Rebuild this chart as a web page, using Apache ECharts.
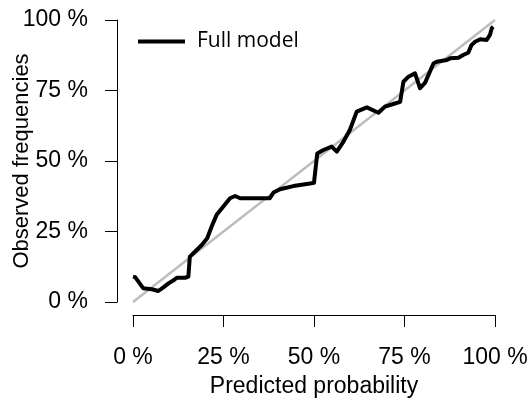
<!DOCTYPE html>
<html>
<head>
<meta charset="utf-8">
<script src="https://cdn.jsdelivr.net/npm/echarts@6/dist/echarts.min.js"></script>
<style>html,body{margin:0;padding:0;background:#fff;}#c{width:530px;height:407px;}</style>
</head>
<body>
<div id="c"></div>
<script>
var predicted = [0, 0.6, 2.8, 5.2, 7.0, 8.4, 9.8, 11.1, 12.1, 14.4, 15.3, 15.7, 17.1, 19.0, 20.5, 21.7, 23.1, 24.9, 26.8, 28.2, 29.6, 34.2, 37.8, 38.8, 40.6, 44.3, 48.9, 50.0, 50.9, 52.6, 54.9, 56.3, 58.1, 59.9, 61.8, 64.6, 65.0, 67.8, 69.6, 71.9, 73.8, 74.7, 76.1, 77.9, 79.3, 80.7, 83.0, 83.9, 86.7, 87.6, 89.9, 91.2, 92.6, 93.5, 94.5, 95.9, 97.7, 98.6, 99.1, 99.5];
var observed = [9.0, 8.8, 4.9, 4.5, 3.9, 5.2, 6.6, 7.6, 8.6, 8.6, 9.0, 16.1, 17.8, 20.2, 22.6, 26.7, 30.9, 33.8, 36.8, 37.6, 36.8, 36.8, 36.8, 38.8, 40.0, 41.1, 42.0, 42.3, 52.7, 53.9, 55.1, 53.3, 56.8, 61.0, 67.5, 69.0, 69.0, 67.1, 69.3, 70.2, 71.0, 78.1, 79.9, 81.1, 75.8, 77.8, 84.6, 85.2, 85.8, 86.4, 86.6, 87.6, 88.4, 91.1, 92.3, 93.2, 92.9, 94.7, 97.1, 97.6];
var refX = [0, 100];
var refY = [0, 100];
var ticks = [0, 25, 50, 75, 100];
var seriesName = 'Full model';
var xTitle = 'Predicted probability';
var yTitle = 'Observed frequencies';

var chart = echarts.init(document.getElementById('c'), null, {renderer: 'canvas'});
var font = 'Liberation Sans, Arial, sans-serif';
function pct(v){ return v + ' %'; }
var hiddenAxis = {type: 'value', min: 0, max: 100, interval: 25, show: false};
function gridBase(extra){ return Object.assign({right: 35, top: 20, containLabel: false, outerBoundsMode: 'none'}, extra); }
chart.setOption({
  animation: false,
  backgroundColor: '#fff',
  grid: [
    gridBase({left: 133, bottom: 105}),
    gridBase({left: 117, bottom: 105}),
    gridBase({left: 133, bottom: 92})
  ],
  legend: {
    data: [seriesName],
    left: 138, top: 31, padding: 0,
    icon: 'rect', itemWidth: 47, itemHeight: 4,
    textStyle: {fontFamily: 'Open Sans', fontSize: 21, color: '#000', padding: [0,0,0,7]}
  },
  xAxis: [
    Object.assign({gridIndex: 0}, hiddenAxis),
    Object.assign({gridIndex: 1}, hiddenAxis),
    {
      gridIndex: 2, type: 'value', min: 0, max: 100, interval: 25,
      name: xTitle, nameLocation: 'middle', nameGap: 60, nameMoveOverlap: false,
      nameTextStyle: {fontFamily: font, fontSize: 23, color: '#000'},
      axisLine: {show: true, lineStyle: {color: '#000', width: 1}},
      axisTick: {show: true, length: 12, lineStyle: {color: '#000'}},
      axisLabel: {formatter: pct, fontFamily: font, fontSize: 23, color: '#000', margin: 31},
      splitLine: {show: false}
    }
  ],
  yAxis: [
    Object.assign({gridIndex: 0}, hiddenAxis),
    {
      gridIndex: 1, type: 'value', min: 0, max: 100, interval: 25,
      name: yTitle, nameLocation: 'middle', nameGap: 84, nameMoveOverlap: false,
      nameTextStyle: {fontFamily: font, fontSize: 22, color: '#000'},
      axisLine: {show: true, lineStyle: {color: '#000', width: 1}},
      axisTick: {show: true, length: 12, lineStyle: {color: '#000'}},
      axisLabel: {formatter: pct, fontFamily: font, fontSize: 23, color: '#000', margin: 29},
      splitLine: {show: false}
    },
    Object.assign({gridIndex: 2}, hiddenAxis)
  ],
  series: [
    {
      type: 'line', name: 'reference', silent: true, symbol: 'none',
      xAxisIndex: 0, yAxisIndex: 0,
      data: refX.map(function(x, i){ return [x, refY[i]]; }),
      lineStyle: {color: '#bdbdbd', width: 2.5}, z: 1
    },
    {
      type: 'line', name: seriesName, symbol: 'none',
      xAxisIndex: 0, yAxisIndex: 0,
      data: predicted.map(function(x, i){ return [x, observed[i]]; }),
      lineStyle: {color: '#000', width: 4, join: 'round'}, itemStyle: {color: '#000'}, z: 2
    }
  ]
});
</script>
</body>
</html>
